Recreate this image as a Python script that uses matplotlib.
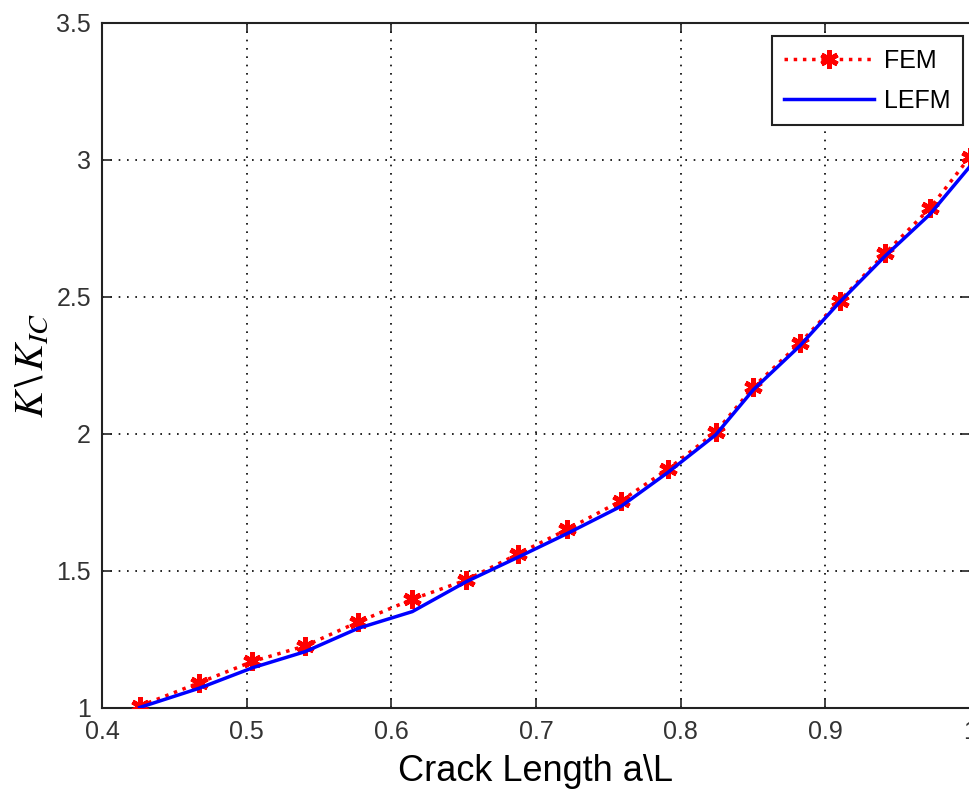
import matplotlib
matplotlib.use("Agg")
import matplotlib.pyplot as plt

plt.rcParams['font.family'] = ['Liberation Sans', 'DejaVu Sans']
plt.rcParams['mathtext.fontset'] = 'stix'

crack_len = [0.426, 0.467, 0.504, 0.5405, 0.577, 0.6145, 0.6517, 0.6874, 0.7216,
             0.759, 0.7912, 0.8242, 0.8503, 0.8824, 0.910, 0.9414, 0.9723, 1.0]
fem = [1.005, 1.09, 1.168, 1.225, 1.312, 1.395, 1.465, 1.56, 1.65,
       1.755, 1.87, 2.005, 2.17, 2.33, 2.485, 2.658, 2.822, 3.01]
lefm = [1.0, 1.07, 1.145, 1.204, 1.289, 1.350, 1.459, 1.548, 1.635,
        1.735, 1.858, 1.995, 2.16, 2.32, 2.48, 2.648, 2.80, 2.975]

x_ticks = [0.4, 0.5, 0.6, 0.7, 0.8, 0.9, 1.0]
x_ticklabels = ['0.4', '0.5', '0.6', '0.7', '0.8', '0.9', '1']
y_ticks = [1, 1.5, 2, 2.5, 3, 3.5]
y_ticklabels = ['1', '1.5', '2', '2.5', '3', '3.5']

fig = plt.figure(figsize=(9.69, 7.91), dpi=100)
ax = fig.add_axes([102/969, (791-707.5)/791, 868/969, 685/791])

ax.plot(crack_len, fem, color='red', linestyle=':', linewidth=2.5,
        marker=(6, 2, 0), markersize=13, markeredgewidth=3.5, label='FEM', zorder=3)
ax.plot(crack_len, lefm, color='blue', linestyle='-', linewidth=2.5, label='LEFM', zorder=4)

ax.set_xlim(0.4, 1.0)
ax.set_ylim(1, 3.5)
ax.set_xticks(x_ticks)
ax.set_xticklabels(x_ticklabels)
ax.set_yticks(y_ticks)
ax.set_yticklabels(y_ticklabels)
ax.tick_params(direction='in', length=7, width=1.2, labelsize=18, top=True, right=True,
               colors='#222222', labelcolor='#333333')
ax.tick_params(axis='x', pad=9)
ax.tick_params(axis='y', pad=8)
ax.grid(True, color='black', linestyle=(0, (1, 4)), linewidth=1.2)
for s in ax.spines.values():
    s.set_linewidth(1.5)
    s.set_color('#222222')

ax.set_xlabel(r'Crack Length a\L', fontsize=26, labelpad=7)
ax.set_ylabel(r'$K\,\backslash\,K_{IC}$', fontsize=29, labelpad=4)

leg = ax.legend(loc='upper right', fontsize=18,
                fancybox=False, edgecolor='#222222', framealpha=1, handlelength=3.6,
                borderpad=0.5, labelspacing=0.65, handletextpad=0.4, borderaxespad=0)
leg.set_bbox_to_anchor((963/969, (791-36)/791), transform=fig.transFigure)
leg.get_frame().set_linewidth(1.5)

fig.savefig('out.png', dpi=100)
